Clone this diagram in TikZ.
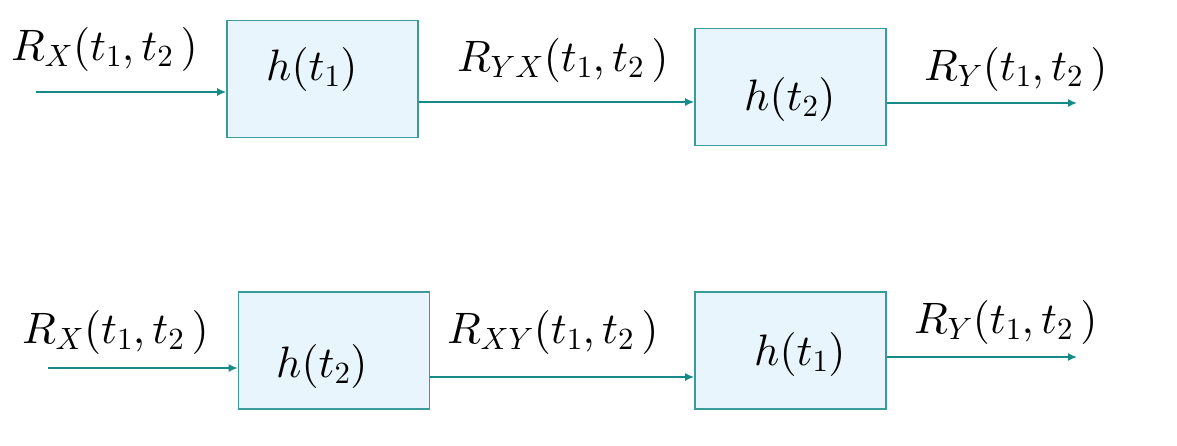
\documentclass[tikz,border=0pt]{standalone}
\DeclareFontShape{OT1}{cmr}{m}{n}{<->cmr10}{}
\DeclareFontShape{OML}{cmm}{m}{it}{<->cmmi10}{}
\DeclareFontShape{OMS}{cmsy}{m}{n}{<->cmsy10}{}
\DeclareFontShape{OMX}{cmex}{m}{n}{<->cmex10}{}
\usetikzlibrary{arrows.meta}
\definecolor{teal1}{HTML}{158A86}
\definecolor{boxline}{HTML}{3A9C9A}
\definecolor{boxfill}{HTML}{E8F5FD}
\newcommand{\Lb}[1]{{\fontsize{44}{48}\selectfont $#1$}}
\newcommand{\targs}{(t_1,t_2\,)}
\begin{document}
\begin{tikzpicture}[x=1pt,y=-1pt,
  blk/.style={draw=boxline,fill=boxfill,line width=1.6pt,minimum width=191pt,minimum height=117pt,inner sep=0pt},
  arr/.style={draw=teal1,line width=1.6pt,-{Latex[length=9pt,width=8pt]}},
  lbl/.style={anchor=base west,inner sep=0pt}]
\useasboundingbox (0,0) rectangle (1177,445);
% top row
\node[blk] (b1) at (322.5,79) {};
\node[blk] (b2) at (790.5,87) {};
\coordinate (in1) at (36,92);
\coordinate (m1) at (0,102);
\coordinate (out1) at (1077,103);
\node[lbl] (l1) at (11,60) {\Lb{R_{X}\targs}};
\node[lbl] (h1) at (266,80) {\Lb{h(t_1)}};
\node[lbl] (l2) at (457,71) {\Lb{R_{YX}\targs}};
\node[lbl] (h2) at (744,110) {\Lb{h(t_2)}};
\node[lbl] (l3) at (924,80) {\Lb{R_{Y}\targs}};
\draw[arr] (in1) -- (in1 -| b1.west);
\draw[arr] (b1.east |- m1) -- (b2.west |- m1);
\draw[arr] (b2.east |- out1) -- (out1);
% bottom row
\node[blk] (b3) at (334,350.5) {};
\node[blk] (b4) at (790.5,350.5) {};
\coordinate (in2) at (48,368);
\coordinate (m2) at (0,377);
\coordinate (out2) at (1077,357);
\node[lbl] (l4) at (22,343) {\Lb{R_{X}\targs}};
\node[lbl] (h3) at (276,377) {\Lb{h(t_2)}};
\node[lbl] (l5) at (447,343) {\Lb{R_{XY}\targs}};
\node[lbl] (h4) at (754,365) {\Lb{h(t_1)}};
\node[lbl] (l6) at (914,333) {\Lb{R_{Y}\targs}};
\draw[arr] (in2) -- (in2 -| b3.west);
\draw[arr] (b3.east |- m2) -- (b4.west |- m2);
\draw[arr] (b4.east |- out2) -- (out2);
\end{tikzpicture}
\end{document}
